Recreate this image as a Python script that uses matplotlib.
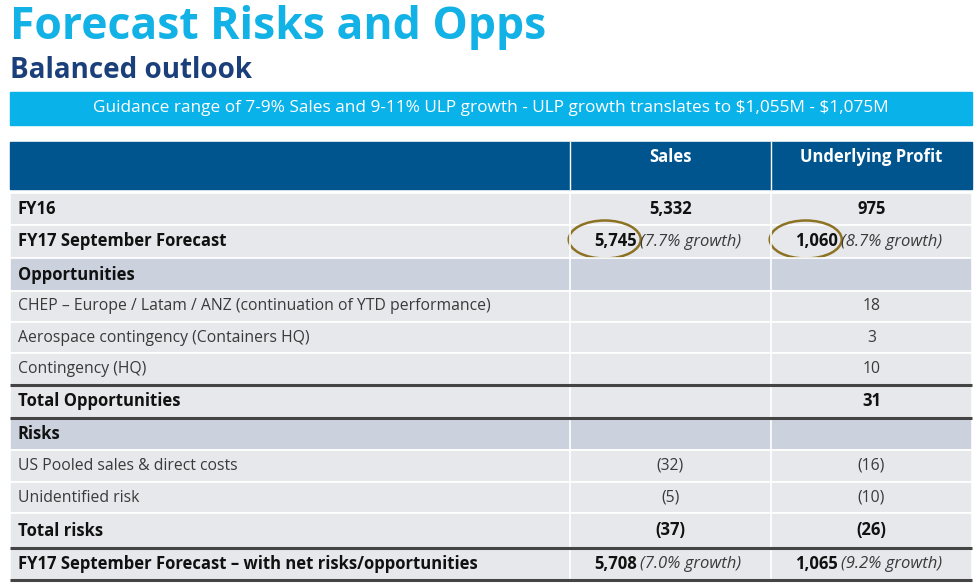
import matplotlib.pyplot as plt
from matplotlib.patches import Rectangle, Ellipse

plt.rcParams['font.family'] = ['Open Sans', 'DejaVu Sans']

title = "Forecast Risks and Opps"
subtitle = "Balanced outlook"
banner = r"Guidance range of 7-9% Sales and 9-11% ULP growth - ULP growth translates to \$1,055M - \$1,075M"
col_heads = ["Sales", "Underlying Profit"]

row_labels = ["FY16", "FY17 September Forecast", "Opportunities",
              "CHEP \u2013 Europe / Latam / ANZ (continuation of YTD performance)",
              "Aerospace contingency (Containers HQ)", "Contingency (HQ)",
              "Total Opportunities", "Risks", "US Pooled sales & direct costs",
              "Unidentified risk", "Total risks",
              "FY17 September Forecast \u2013 with net risks/opportunities"]
row_kind = ["bold", "bold", "section", "plain", "plain", "plain",
            "bold", "section", "plain", "plain", "bold", "bold"]
sales = ["5,332", "5,745", "", "", "", "", "", "", "(32)", "(5)", "(37)", "5,708"]
profit = ["975", "1,060", "", "18", "3", "10", "31", "", "(16)", "(10)", "(26)", "1,065"]
sales_growth = ["", "(7.7% growth)", "", "", "", "", "", "", "", "", "", "(7.0% growth)"]
profit_growth = ["", "(8.7% growth)", "", "", "", "", "", "", "", "", "", "(9.2% growth)"]
circled = [1]
rule_above = [6, 7, 11, 12]

fig = plt.figure(figsize=(9.79, 5.87), dpi=100)
ax = fig.add_axes([0, 0, 1, 1])
ax.set_xlim(0, 979)
ax.set_ylim(587, 0)
ax.axis('off')

ax.text(10, 27, title, color='#12B1E6', fontsize=32, fontweight='bold', va='center')
ax.text(10, 70, subtitle, color='#1B3F7A', fontsize=20, fontweight='bold', va='center')

ax.add_patch(Rectangle((10, 92), 962, 33, color='#0AB2EA'))
ax.text(491, 108.5, banner, color='white', fontsize=12.4, ha='center', va='center')

x0, xs, xp, x1 = 10, 570, 771, 972
ax.add_patch(Rectangle((x0, 142), x1 - x0, 47, color='#01558F'))
ax.plot([xs, xs], [142, 189], color='white', lw=1)
ax.plot([xp, xp], [142, 189], color='white', lw=1)
ax.text((xs + xp) / 2, 157, col_heads[0], color='white', fontsize=12, fontweight='bold', ha='center', va='center')
ax.text((xp + x1) / 2, 157, col_heads[1], color='white', fontsize=12, fontweight='bold', ha='center', va='center')

edges = [193, 225, 258, 291, 322, 353, 385, 418, 450, 482, 513, 548, 580]
for i, lab in enumerate(row_labels):
    top, bot = edges[i], edges[i + 1]
    yc = (top + bot) / 2
    bg = '#CBD2DD' if row_kind[i] == 'section' else '#E7E8EC'
    ax.add_patch(Rectangle((x0, top), x1 - x0, bot - top, facecolor=bg, edgecolor='white', lw=1.2))
    ax.plot([xs, xs], [top, bot], color='white', lw=1.2)
    ax.plot([xp, xp], [top, bot], color='white', lw=1.2)
    bold = row_kind[i] != 'plain'
    ax.text(18, yc, lab, fontsize=12 if bold else 11.3, fontweight='bold' if bold else 'normal',
            color='#111111' if bold else '#3A3A3A', va='center')
    wt = 'bold' if row_kind[i] == 'bold' else 'normal'
    col = '#111111' if wt == 'bold' else '#3A3A3A'
    for val, gr, left, right in [(sales[i], sales_growth[i], xs, xp), (profit[i], profit_growth[i], xp, x1)]:
        if not val:
            continue
        if gr:
            xm = left + (right - left) * 0.332
            ax.text(xm, yc, val, fontsize=12, fontweight='bold', color='#111111', ha='right', va='center')
            ax.text(xm + 3, yc, gr, fontsize=12, style='italic', color='#3A3A3A', ha='left', va='center')
            if i in circled:
                ax.add_patch(Ellipse((xm - 32, yc - 2), 72, 38, fill=False, edgecolor='#8C7222', lw=1.8))
        else:
            ax.text((left + right) / 2, yc, val, fontsize=12 if wt == 'bold' else 11.3, fontweight=wt,
                    color=col, ha='center', va='center')

for r in rule_above:
    ax.plot([x0, x1], [edges[r], edges[r]], color='#444444', lw=2.2, solid_capstyle='butt')

fig.savefig('out.png', dpi=100, facecolor='white')
